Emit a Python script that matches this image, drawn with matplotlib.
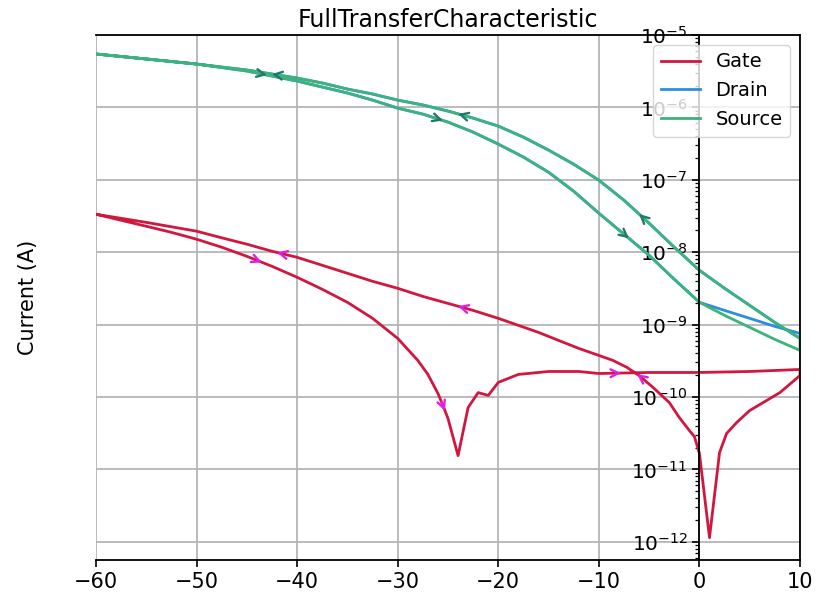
import numpy as np
import matplotlib
matplotlib.use("Agg")
import matplotlib.pyplot as plt

# Forward sweep (-60 V -> +10 V)
src_fwd_v = [-60, -55, -50, -45, -42.5, -40, -37.5, -35, -32.5, -30, -27.5, -25, -22.5,
             -20, -17.5, -15, -12.5, -10, -7.5, -5, -2.5, 0, 2.5, 5, 7.5, 10]
src_fwd_i = [5.46e-6, 4.66e-6, 3.97e-6, 3.18e-6, 2.71e-6, 2.31e-6, 1.91e-6, 1.58e-6,
             1.26e-6, 9.77e-7, 8.07e-7, 6.26e-7, 4.55e-7, 3.11e-7, 2.06e-7, 1.27e-7,
             6.95e-8, 3.45e-8, 1.77e-8, 9.06e-9, 4.22e-9, 2.03e-9, 1.34e-9, 9.15e-10,
             6.24e-10, 4.40e-10]
drn_fwd_i = [5.46e-6, 4.66e-6, 3.97e-6, 3.18e-6, 2.71e-6, 2.31e-6, 1.91e-6, 1.58e-6,
             1.26e-6, 9.77e-7, 8.07e-7, 6.26e-7, 4.55e-7, 3.11e-7, 2.06e-7, 1.27e-7,
             6.95e-8, 3.45e-8, 1.77e-8, 9.06e-9, 4.22e-9, 2.03e-9, 1.57e-9, 1.22e-9,
             9.44e-10, 7.55e-10]

# Reverse sweep (+10 V -> -60 V)
src_rev_v = [10, 7.5, 5, 2.5, 0, -2.5, -5, -7.5, -10, -12.5, -15, -17.5, -20, -22.5, -25,
             -27.5, -30, -32.5, -35, -37.5, -40, -42.5, -45, -50, -55, -60]
src_rev_i = [6.44e-10, 1.07e-9, 1.84e-9, 3.17e-9, 5.62e-9, 1.17e-8, 2.51e-8, 5.22e-8,
             9.87e-8, 1.64e-7, 2.57e-7, 3.88e-7, 5.51e-7, 7.11e-7, 8.89e-7, 1.08e-6,
             1.26e-6, 1.53e-6, 1.79e-6, 2.17e-6, 2.54e-6, 2.89e-6, 3.28e-6, 3.97e-6,
             4.66e-6, 5.46e-6]
drn_rev_i = [6.44e-10, 1.07e-9, 1.84e-9, 3.17e-9, 5.62e-9, 1.17e-8, 2.51e-8, 5.22e-8,
             9.87e-8, 1.64e-7, 2.57e-7, 3.88e-7, 5.51e-7, 7.11e-7, 8.89e-7, 1.08e-6,
             1.26e-6, 1.53e-6, 1.79e-6, 2.17e-6, 2.54e-6, 2.89e-6, 3.28e-6, 3.97e-6,
             4.66e-6, 5.46e-6]

gate_fwd_v = [-60, -57.5, -55, -52.5, -50, -47.5, -45, -42.5, -40, -37.5, -35, -32.5, -30,
              -28, -27, -26, -25.5, -25, -24, -23, -22, -21, -20, -18, -15, -12, -10, -5,
              0, 5, 10]
gate_fwd_i = [3.34e-8, 2.76e-8, 2.28e-8, 1.88e-8, 1.51e-8, 1.17e-8, 8.77e-9, 6.38e-9,
              4.50e-9, 3.07e-9, 2.03e-9, 1.22e-9, 6.44e-10, 3.20e-10, 2.05e-10, 1.12e-10,
              7.62e-11, 5.04e-11, 1.55e-11, 7.16e-11, 1.15e-10, 1.05e-10, 1.59e-10,
              2.05e-10, 2.25e-10, 2.25e-10, 2.11e-10, 2.18e-10, 2.18e-10, 2.25e-10,
              2.40e-10]
gate_rev_v = [10, 8, 5, 3.7, 2.7, 2, 1, 0, -0.5, -1, -2, -3, -4.6, -6, -7.2, -8.6, -10,
              -12, -14, -16, -18, -20, -22.5, -25, -27.5, -30, -32.5, -35, -37.5, -40,
              -42.5, -45, -47.5, -50, -55, -60]
gate_rev_i = [1.98e-10, 1.15e-10, 6.50e-11, 4.44e-11, 3.13e-11, 1.71e-11, 1.14e-12,
              1.66e-11, 2.84e-11, 3.44e-11, 5.20e-11, 8.39e-11, 1.35e-10, 1.98e-10,
              2.56e-10, 3.20e-10, 3.75e-10, 4.69e-10, 6.04e-10, 7.80e-10, 9.75e-10,
              1.22e-9, 1.57e-9, 1.96e-9, 2.45e-9, 3.17e-9, 3.96e-9, 5.11e-9, 6.59e-9,
              8.49e-9, 1.03e-8, 1.29e-8, 1.58e-8, 1.95e-8, 2.58e-8, 3.34e-8]

x_ticks = [-60, -50, -40, -30, -20, -10, 0, 10]

GATE_C = "#d2173f"
DRAIN_C = "#2b8ee0"
SOURCE_C = "#3cb37a"
SRC_ARROW_C = "#1f7a6c"
GATE_ARROW_C = "#e31de3"

plt.rcParams["font.family"] = ["DejaVu Sans"]

fig = plt.figure(figsize=(8.17, 5.95), dpi=100)
ax = fig.add_axes([0.1175, 0.0588, 0.8617, 0.8824])

ax.plot(gate_fwd_v + gate_rev_v, gate_fwd_i + gate_rev_i, color=GATE_C, lw=2, label="Gate")
ax.plot(src_fwd_v + src_rev_v, drn_fwd_i + drn_rev_i, color=DRAIN_C, lw=2, label="Drain")
ax.plot(src_fwd_v + src_rev_v, src_fwd_i + src_rev_i, color=SOURCE_C, lw=2, label="Source")


def sweep_arrow(v, i, x_tip, forward, color):
    """Place a direction arrow on a sweep branch at bias x_tip."""
    v = np.asarray(v, float)
    li = np.log10(np.asarray(i, float))
    order = np.argsort(v)
    v, li = v[order], li[order]
    dx = 0.35 if forward else -0.35
    x0 = x_tip - dx
    y_tip = 10 ** np.interp(x_tip, v, li)
    y0 = 10 ** np.interp(x0, v, li)
    ax.annotate("", xy=(x_tip, y_tip), xytext=(x0, y0),
                arrowprops=dict(arrowstyle="->", color=color, lw=1.7,
                                mutation_scale=14, shrinkA=0, shrinkB=0),
                zorder=5)


for xt in (-43, -25.5, -7):
    sweep_arrow(src_fwd_v, src_fwd_i, xt, True, SRC_ARROW_C)
for xt in (-42.5, -24, -6):
    sweep_arrow(src_rev_v, src_rev_i, xt, False, SRC_ARROW_C)
for xt in (-43.5, -25.3, -7.8):
    sweep_arrow(gate_fwd_v, gate_fwd_i, xt, True, GATE_ARROW_C)
for xt in (-42, -24, -6.2):
    sweep_arrow(gate_rev_v, gate_rev_i, xt, False, GATE_ARROW_C)

ax.set_yscale("log")
ax.set_xlim(-60, 10)
ax.set_ylim(5.6e-13, 1e-5)
ax.set_xticks(x_ticks)
ax.set_yticks([1e-12, 1e-11, 1e-10, 1e-9, 1e-8, 1e-7, 1e-6, 1e-5])
ax.grid(True, which="major", color="#b5b5b5", lw=1.3)
ax.set_axisbelow(True)

ax.spines["left"].set_position(("data", 0))
for s in ax.spines.values():
    s.set_linewidth(1.3)
ax.tick_params(axis="both", which="major", length=5, width=1.2)
ax.tick_params(axis="x", labelsize=15)
ax.tick_params(axis="y", labelsize=14.5)
ax.tick_params(axis="y", which="minor", length=3, width=0.9)

ax.set_title("FullTransferCharacteristic", fontsize=17)
ax.set_ylabel("Current (A)", fontsize=15)
ax.yaxis.set_label_coords(-0.082, 0.5)

ax.legend(loc="upper right", fontsize=14)

fig.savefig("out.png", dpi=100)
